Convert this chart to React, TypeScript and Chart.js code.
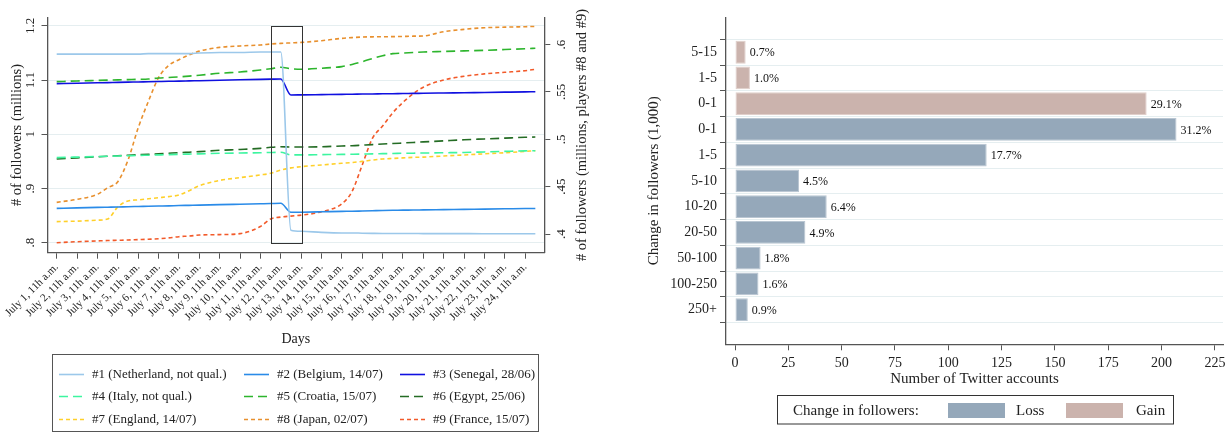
import React, { useEffect, useRef } from 'react';
import { Chart, registerables } from 'chart.js';

Chart.register(...registerables);

const FONT = '"Liberation Serif", "Times New Roman", serif';

// ---------------- Left panel data ----------------
const days = [0, 1, 2, 2.5, 3, 3.5, 4, 4.5, 5, 5.5, 6, 6.5, 7, 8, 9, 10, 10.5, 11, 11.5, 12, 13, 14, 14.5, 15, 15.5, 16, 16.5, 17, 17.5, 18, 19, 20, 21, 22, 23, 23.5];

const netherland = [1.148, 1.148, 1.148, 1.148, 1.148, 1.148, 1.148, 1.149, 1.149, 1.149, 1.149, 1.149, 1.150, 1.151, 1.151, 1.152, 1.152, 1.152, 0.823, 0.821, 0.819, 0.818, 0.818, 0.8175, 0.8172, 0.817, 0.817, 0.817, 0.817, 0.8168, 0.8168, 0.8167, 0.8166, 0.8166, 0.8165, 0.8165];
const belgium = [0.8634, 0.8642, 0.8651, 0.8655, 0.8659, 0.8664, 0.8668, 0.8672, 0.8676, 0.868, 0.8685, 0.8689, 0.8693, 0.8702, 0.871, 0.8718, 0.8722, 0.8727, 0.8561, 0.8563, 0.857, 0.8578, 0.858, 0.8585, 0.859, 0.8595, 0.8598, 0.86, 0.8603, 0.8605, 0.861, 0.8615, 0.862, 0.8625, 0.863, 0.8632];
const senegal = [1.0935, 1.0943, 1.0951, 1.0955, 1.0959, 1.0963, 1.0967, 1.0971, 1.0975, 1.0979, 1.0982, 1.0986, 1.099, 1.0998, 1.1006, 1.1014, 1.1018, 1.1022, 1.0726, 1.0728, 1.0733, 1.0738, 1.074, 1.0743, 1.0745, 1.0748, 1.075, 1.0753, 1.0755, 1.0758, 1.0763, 1.0768, 1.0773, 1.0778, 1.0783, 1.0786];
const italy = [0.957, 0.958, 0.959, 0.9595, 0.96, 0.9605, 0.961, 0.9615, 0.962, 0.9625, 0.963, 0.9635, 0.964, 0.965, 0.9655, 0.966, 0.9665, 0.9668, 0.962, 0.962, 0.9625, 0.963, 0.9632, 0.9635, 0.964, 0.9643, 0.9646, 0.965, 0.9652, 0.9655, 0.966, 0.9665, 0.9675, 0.9685, 0.9695, 0.9698];
const croatia = [1.0972, 1.0985, 1.0995, 1.1, 1.1005, 1.101, 1.1015, 1.102, 1.104, 1.105, 1.106, 1.1075, 1.109, 1.1127, 1.115, 1.1188, 1.121, 1.1237, 1.121, 1.12, 1.122, 1.125, 1.129, 1.134, 1.14, 1.145, 1.149, 1.15, 1.151, 1.152, 1.153, 1.154, 1.155, 1.1565, 1.158, 1.1588];
const egypt = [0.9545, 0.9565, 0.9585, 0.9595, 0.9605, 0.9614, 0.9623, 0.9632, 0.9642, 0.9651, 0.966, 0.967, 0.968, 0.9705, 0.972, 0.974, 0.976, 0.977, 0.9765, 0.9765, 0.977, 0.9785, 0.979, 0.98, 0.981, 0.9822, 0.983, 0.984, 0.985, 0.986, 0.988, 0.99, 0.9915, 0.993, 0.9945, 0.9951];
const england = [0.8388, 0.8398, 0.8415, 0.8437, 0.866, 0.877, 0.879, 0.881, 0.883, 0.885, 0.888, 0.896, 0.905, 0.915, 0.92, 0.925, 0.928, 0.9342, 0.938, 0.9403, 0.9434, 0.9465, 0.948, 0.95, 0.9525, 0.9545, 0.9555, 0.9565, 0.9575, 0.958, 0.96, 0.9619, 0.964, 0.966, 0.9685, 0.9698];
const japan = [0.4335, 0.4367, 0.442, 0.449, 0.4553, 0.478, 0.512, 0.54, 0.565, 0.578, 0.584, 0.589, 0.593, 0.597, 0.5985, 0.5995, 0.6005, 0.6012, 0.6017, 0.6022, 0.604, 0.6065, 0.6073, 0.6079, 0.6081, 0.6082, 0.6083, 0.6085, 0.6088, 0.609, 0.6135, 0.616, 0.6177, 0.6183, 0.6188, 0.6191];
const france = [0.3909, 0.392, 0.3928, 0.3932, 0.3935, 0.3938, 0.3942, 0.3946, 0.3951, 0.396, 0.3973, 0.398, 0.399, 0.3995, 0.4005, 0.408, 0.4159, 0.418, 0.419, 0.42, 0.4236, 0.432, 0.445, 0.4729, 0.501, 0.514, 0.528, 0.539, 0.548, 0.555, 0.5626, 0.5665, 0.569, 0.5707, 0.5724, 0.5738];

const seriesNames = [
  '#1 (Netherland, not qual.)', '#2 (Belgium, 14/07)', '#3 (Senegal, 28/06)',
  '#4 (Italy, not qual.)', '#5 (Croatia, 15/07)', '#6 (Egypt, 25/06)',
  '#7 (England, 14/07)', '#8 (Japan, 02/07)', '#9 (France, 15/07)',
];
const seriesValues = [netherland, belgium, senegal, italy, croatia, egypt, england, japan, france];
const seriesAxis = ['y', 'y', 'y', 'y', 'y', 'y', 'y', 'y1', 'y1'];
const seriesColors = ['#9cc8ea', '#2a8be8', '#1010e0', '#3df5a0', '#2db52d', '#246c24', '#ffd02a', '#e8902e', '#f25a2a'];
const seriesDash = [[], [], [], [9, 5], [9, 5], [9, 5], [4, 3], [4, 3], [4, 3]];

const xTickValues = [0, 1, 2, 3, 4, 5, 6, 7, 8, 9, 10, 11, 12, 13, 14, 15, 16, 17, 18, 19, 20, 21, 22, 23];
const xTickLabels = [
  'July 1, 11h a.m.', 'July 2, 11h a.m.', 'July 3, 11h a.m.', 'July 4, 11h a.m.', 'July 5, 11h a.m.', 'July 6, 11h a.m.',
  'July 7, 11h a.m.', 'July 8, 11h a.m.', 'July 9, 11h a.m.', 'July 10, 11h a.m.', 'July 11, 11h a.m.', 'July 12, 11h a.m.',
  'July 13, 11h a.m.', 'July 14, 11h a.m.', 'July 15, 11h a.m.', 'July 16, 11h a.m.', 'July 17, 11h a.m.', 'July 18, 11h a.m.',
  'July 19, 11h a.m.', 'July 20, 11h a.m.', 'July 21, 11h a.m.', 'July 22, 11h a.m.', 'July 23, 11h a.m.', 'July 24, 11h a.m.',
];
const leftTicks = [0.8, 0.9, 1, 1.1, 1.2];
const leftTickLabels = ['.8', '.9', '1', '1.1', '1.2'];
const rightTicks = [0.4, 0.45, 0.5, 0.55, 0.6];
const rightTickLabels = ['.4', '.45', '.5', '.55', '.6'];
const boxDays = [10.5, 12];
const boxLevels = [1.2, 0.8];

// ---------------- Right panel data ----------------
const categories = ['5-15', '1-5', '0-1', '0-1', '1-5', '5-10', '10-20', '20-50', '50-100', '100-250', '250+'];
const categoryIndex = [0, 1, 2, 3, 4, 5, 6, 7, 8, 9, 10];
const accounts = [5, 7, 193, 207, 118, 30, 43, 33, 12, 11, 6];
const shareLabels = ['0.7%', '1.0%', '29.1%', '31.2%', '17.7%', '4.5%', '6.4%', '4.9%', '1.8%', '1.6%', '0.9%'];
const changeType = ['Gain', 'Gain', 'Gain', 'Loss', 'Loss', 'Loss', 'Loss', 'Loss', 'Loss', 'Loss', 'Loss'];
const xBarTicks = [0, 25, 50, 75, 100, 125, 150, 175, 200, 225];
const typeColors: Record<string, string> = { Loss: '#95a8ba', Gain: '#cbb3ad' };
const typeBorders: Record<string, string> = { Loss: '#b9c6d2', Gain: '#e0cfcb' };

const AXIS = '#555555';
const GRID = '#e5eef0';
const TEXT = '#222222';

function drawRotated(ctx: CanvasRenderingContext2D, text: string, x: number, y: number) {
  ctx.save();
  ctx.translate(x, y);
  ctx.rotate(-Math.PI / 2);
  ctx.fillText(text, 0, 0);
  ctx.restore();
}

const lineExtras = {
  id: 'lineExtras',
  afterDraw(chart: any) {
    const ctx: CanvasRenderingContext2D = chart.ctx;
    const xs = chart.scales.x;
    const ys = chart.scales.y;
    const ys1 = chart.scales.y1;
    ctx.save();
    // highlight box
    const bx0 = xs.getPixelForValue(boxDays[0]);
    const bx1 = xs.getPixelForValue(boxDays[1]);
    const by0 = ys.getPixelForValue(boxLevels[0]);
    const by1 = ys.getPixelForValue(boxLevels[1]);
    ctx.strokeStyle = '#333';
    ctx.lineWidth = 1;
    ctx.strokeRect(Math.round(bx0) + 0.5, Math.round(by0) + 0.5, Math.round(bx1 - bx0), Math.round(by1 - by0));

    // y tick labels (rotated, Stata style)
    ctx.fillStyle = TEXT;
    ctx.font = `13px ${FONT}`;
    ctx.textAlign = 'center';
    ctx.textBaseline = 'middle';
    leftTicks.forEach((v, i) => drawRotated(ctx, leftTickLabels[i], 31, ys.getPixelForValue(v)));
    rightTicks.forEach((v, i) => drawRotated(ctx, rightTickLabels[i], 562, ys1.getPixelForValue(v)));

    // right axis title
    ctx.font = `14.5px ${FONT}`;
    const midY = (chart.chartArea.top + chart.chartArea.bottom) / 2;
    drawRotated(ctx, '# of followers (millions, players #8 and #9)', 582, midY);

    // legend
    const L = { x0: 52.5, y0: 354.5, x1: 538.5, y1: 431.5 };
    ctx.strokeStyle = AXIS;
    ctx.lineWidth = 1;
    ctx.strokeRect(L.x0, L.y0, L.x1 - L.x0, L.y1 - L.y0);
    const colSample = [59, 244, 400];
    const colText = [92, 277, 433];
    const rowY = [373.5, 396, 418.5];
    ctx.font = `13px ${FONT}`;
    ctx.textAlign = 'left';
    ctx.textBaseline = 'middle';
    seriesNames.forEach((name, i) => {
      const col = i % 3;
      const row = Math.floor(i / 3);
      const y = Math.round(rowY[row]) + 0.5;
      ctx.save();
      ctx.strokeStyle = seriesColors[i];
      ctx.lineWidth = 1.6;
      ctx.setLineDash(seriesDash[i]);
      ctx.beginPath();
      ctx.moveTo(colSample[col], y);
      ctx.lineTo(colSample[col] + 25, y);
      ctx.stroke();
      ctx.restore();
      ctx.fillStyle = TEXT;
      ctx.fillText(name, colText[col], rowY[row] + 1);
    });
    ctx.restore();
  },
};

const barExtras = {
  id: 'barExtras',
  afterDatasetsDraw(chart: any) {
    const ctx: CanvasRenderingContext2D = chart.ctx;
    const meta = chart.getDatasetMeta(0);
    ctx.save();
    ctx.fillStyle = '#111';
    ctx.font = `12px ${FONT}`;
    ctx.textAlign = 'left';
    ctx.textBaseline = 'middle';
    meta.data.forEach((bar: any, i: number) => {
      ctx.fillText(shareLabels[i], bar.x + 4, bar.y + 1);
    });
    ctx.restore();
  },
  afterDraw(chart: any) {
    const ctx: CanvasRenderingContext2D = chart.ctx;
    ctx.save();
    ctx.strokeStyle = '#333';
    ctx.lineWidth = 1;
    ctx.strokeRect(167.5, 395.5, 396, 28.5);
    ctx.font = `15px ${FONT}`;
    ctx.fillStyle = TEXT;
    ctx.textAlign = 'left';
    ctx.textBaseline = 'middle';
    ctx.fillText('Change in followers:', 183, 411);
    const items = [
      { key: 'Loss', sx: 338, tx: 406 },
      { key: 'Gain', sx: 456, tx: 526 },
    ];
    items.forEach((it) => {
      ctx.fillStyle = typeColors[it.key];
      ctx.fillRect(it.sx, 403, 57, 15);
      ctx.fillStyle = TEXT;
      ctx.fillText(it.key, it.tx, 411);
    });
    ctx.restore();
  },
};

export default function App() {
  const leftRef = useRef<HTMLCanvasElement>(null);
  const rightRef = useRef<HTMLCanvasElement>(null);

  useEffect(() => {
    const lineChart = new Chart(leftRef.current as HTMLCanvasElement, {
      type: 'line',
      data: {
        datasets: seriesValues.map((vals, i) => ({
          label: seriesNames[i],
          data: days.map((d, j) => ({ x: d, y: vals[j] })),
          yAxisID: seriesAxis[i],
          borderColor: seriesColors[i],
          backgroundColor: seriesColors[i],
          borderWidth: 1.6,
          borderDash: seriesDash[i],
          pointRadius: 0,
          fill: false,
          cubicInterpolationMode: 'monotone' as const,
        })),
      },
      options: {
        responsive: false,
        animation: false,
        layout: { padding: { top: 17.3, left: 0, right: 0, bottom: 0 } },
        plugins: { legend: { display: false }, tooltip: { enabled: false } },
        scales: {
          x: {
            type: 'linear',
            min: -0.452,
            max: 23.94,
            afterBuildTicks: (s: any) => { s.ticks = xTickValues.map((v) => ({ value: v })); },
            afterFit: (s: any) => { s.height = 192.3; },
            ticks: {
              autoSkip: false,
              minRotation: 45,
              maxRotation: 45,
              padding: 2,
              color: TEXT,
              font: { family: FONT, size: 11 },
              callback: (v: any) => xTickLabels[xTickValues.indexOf(Number(v))] ?? '',
            },
            grid: { drawOnChartArea: false, drawTicks: true, tickLength: 6, tickColor: AXIS },
            border: { display: true, color: AXIS, width: 1.3 },
            title: {
              display: true,
              text: 'Days',
              color: TEXT,
              font: { family: FONT, size: 14 },
              padding: { top: 0, bottom: 97.6 },
            },
          },
          y: {
            type: 'linear',
            position: 'left',
            min: 0.7815,
            max: 1.216,
            afterBuildTicks: (s: any) => { s.ticks = leftTicks.map((v) => ({ value: v })); },
            afterFit: (s: any) => { s.width = 47.5; },
            ticks: { display: false },
            grid: { color: GRID, lineWidth: 1, drawTicks: true, tickLength: 6, tickColor: AXIS },
            border: { display: true, color: AXIS, width: 1.3 },
            title: {
              display: true,
              text: '# of followers (millions)',
              color: TEXT,
              font: { family: FONT, size: 14.5 },
              padding: { top: 8, bottom: 0 },
            },
          },
          y1: {
            type: 'linear',
            position: 'right',
            min: 0.3804,
            max: 0.6287,
            afterBuildTicks: (s: any) => { s.ticks = rightTicks.map((v) => ({ value: v })); },
            afterFit: (s: any) => { s.width = 55.7; },
            ticks: { display: false },
            grid: { drawOnChartArea: false, drawTicks: true, tickLength: 6, tickColor: AXIS },
            border: { display: true, color: AXIS, width: 1.3 },
          },
        },
      },
      plugins: [lineExtras],
    } as any);

    const barChart = new Chart(rightRef.current as HTMLCanvasElement, {
      type: 'bar',
      data: {
        datasets: [
          {
            label: 'Number of Twitter accounts',
            data: categoryIndex.map((c, i) => ({ x: accounts[i], y: c })),
            backgroundColor: changeType.map((t) => typeColors[t]),
            borderColor: changeType.map((t) => typeBorders[t]),
            borderWidth: 1,
            borderSkipped: false,
            barPercentage: 0.885,
            categoryPercentage: 1,
          },
        ],
      },
      options: {
        indexAxis: 'y',
        responsive: false,
        animation: false,
        layout: { padding: { top: 17.3, left: 0, right: 9, bottom: 0 } },
        plugins: { legend: { display: false }, tooltip: { enabled: false } },
        scales: {
          x: {
            type: 'linear',
            min: -4.22,
            max: 228.8,
            afterBuildTicks: (s: any) => { s.ticks = xBarTicks.map((v) => ({ value: v })); },
            afterFit: (s: any) => { s.height = 100.7; },
            ticks: { color: TEXT, font: { family: FONT, size: 14 }, padding: 5, maxRotation: 0, autoSkip: false },
            grid: { drawOnChartArea: false, drawTicks: true, tickLength: 6, tickColor: AXIS },
            border: { display: true, color: AXIS, width: 1.3 },
            title: {
              display: true,
              text: 'Number of Twitter accounts',
              color: TEXT,
              font: { family: FONT, size: 15 },
              padding: { top: 0, bottom: 56.7 },
            },
          },
          y: {
            type: 'linear',
            reverse: true,
            min: -0.78,
            max: 10.77,
            afterBuildTicks: (s: any) => { s.ticks = categoryIndex.map((v) => ({ value: v })); },
            afterFit: (s: any) => { s.width = 116; },
            ticks: {
              autoSkip: false,
              color: TEXT,
              font: { family: FONT, size: 14 },
              padding: 3,
              callback: (v: any) => categories[Number(v)] ?? '',
            },
            grid: { color: GRID, lineWidth: 1, drawTicks: true, tickLength: 6, tickColor: AXIS },
            border: { display: true, color: AXIS, width: 1.3 },
            title: {
              display: true,
              text: 'Change in followers (1,000)',
              color: TEXT,
              font: { family: FONT, size: 15 },
              padding: { top: 35, bottom: 0 },
            },
          },
        },
      },
      plugins: [barExtras],
    } as any);

    return () => {
      lineChart.destroy();
      barChart.destroy();
    };
  }, []);

  return (
    <div style={{ position: 'absolute', left: 0, top: 0, width: 1232, height: 445, background: '#ffffff' }}>
      <canvas ref={leftRef} width={600} height={445} style={{ position: 'absolute', left: 0, top: 0, width: 600, height: 445 }} />
      <canvas ref={rightRef} width={622} height={445} style={{ position: 'absolute', left: 610, top: 0, width: 622, height: 445 }} />
    </div>
  );
}
